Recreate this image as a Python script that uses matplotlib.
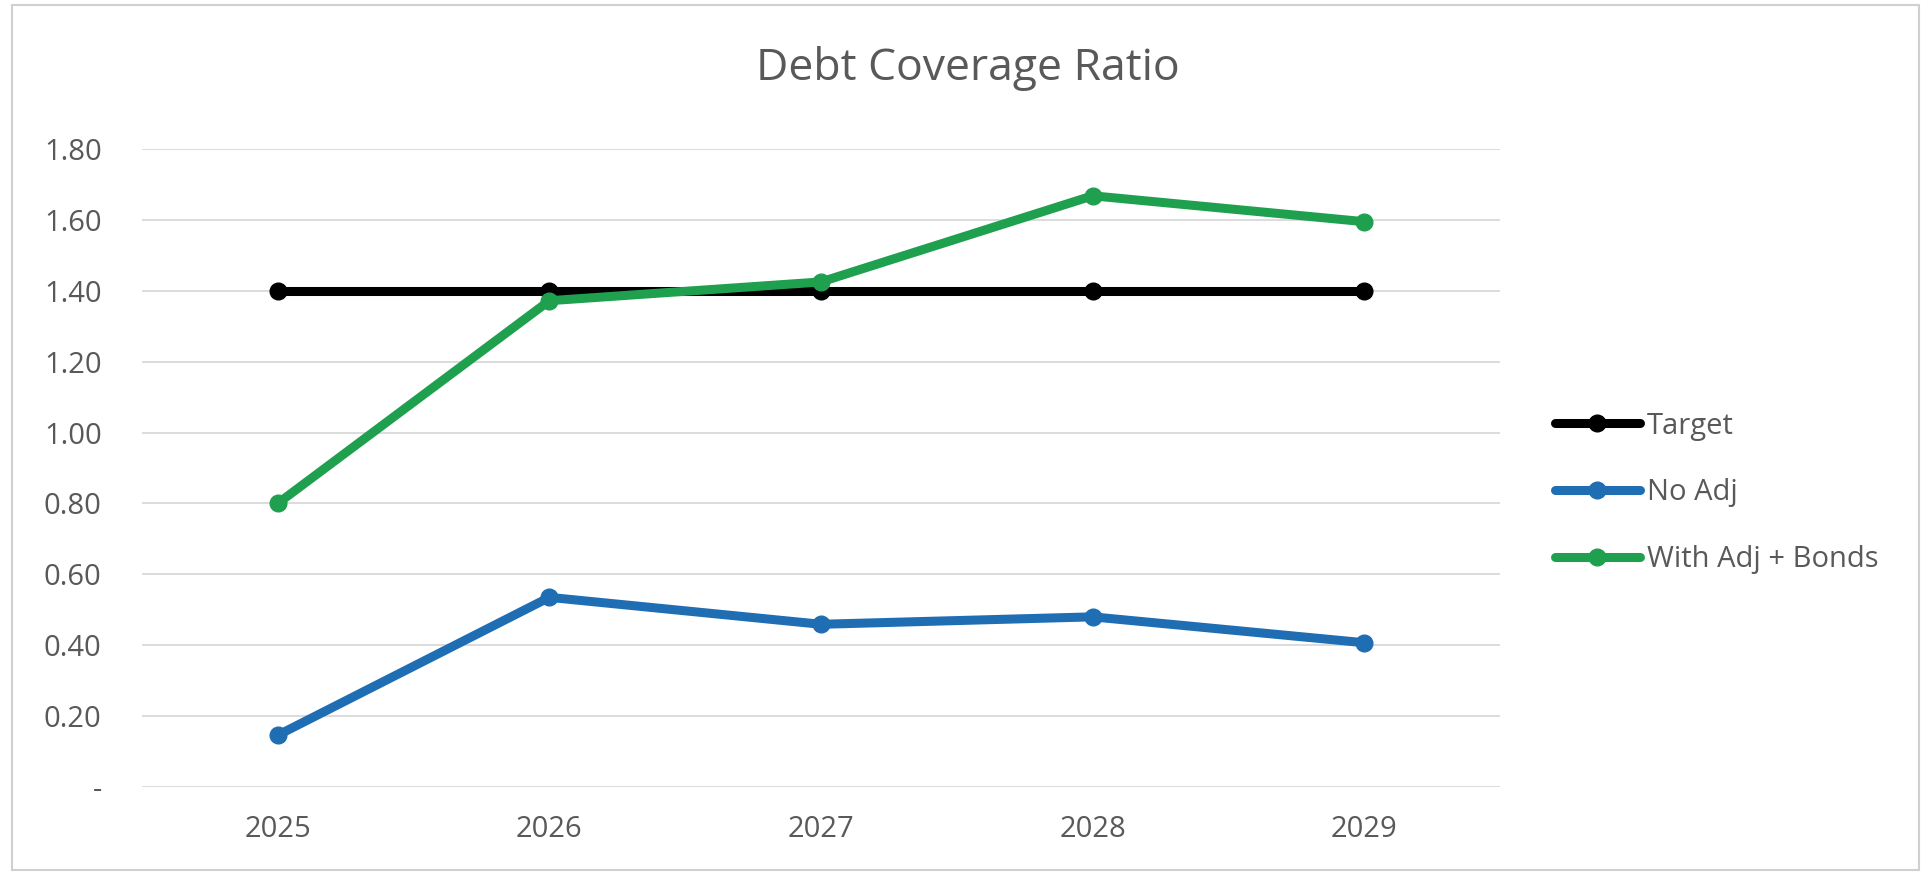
import matplotlib
matplotlib.use("Agg")
import matplotlib.pyplot as plt
from matplotlib.patches import Rectangle

years = ["2025", "2026", "2027", "2028", "2029"]
target = [1.40, 1.40, 1.40, 1.40, 1.40]
no_adj = [0.146, 0.535, 0.459, 0.480, 0.407]
with_adj_bonds = [0.80, 1.372, 1.425, 1.668, 1.595]
y_ticks = [0.0, 0.2, 0.4, 0.6, 0.8, 1.0, 1.2, 1.4, 1.6, 1.8]
y_tick_labels = ["-", "0.20", "0.40", "0.60", "0.80", "1.00", "1.20", "1.40", "1.60", "1.80"]

plt.rcParams['font.family'] = ['Open Sans', 'DejaVu Sans']
text_color = "#595959"

fig = plt.figure(figsize=(19.31, 8.75), dpi=100)
fig.patch.set_facecolor("white")
fig.add_artist(Rectangle((0.006, 0.006), 0.988, 0.988, transform=fig.transFigure,
                         fill=False, edgecolor="#D0D0D0", linewidth=1.5))

ax = fig.add_axes([0.0735, 0.1006, 0.7033, 0.7291])
x = list(range(len(years)))

series = [
    ("Target", target, "#000000"),
    ("No Adj", no_adj, "#1F6DB3"),
    ("With Adj + Bonds", with_adj_bonds, "#1FA04F"),
]
handles = []
for name, vals, col in series:
    h, = ax.plot(x, vals, color=col, linewidth=6.5, marker="o", markersize=12,
                 solid_capstyle="round", label=name, zorder=3)
    handles.append(h)

ax.set_xlim(-0.5, len(years) - 0.5)
ax.set_ylim(0, 1.8)
ax.set_yticks(y_ticks)
ax.set_yticklabels(y_tick_labels)
ax.set_xticks(x)
ax.set_xticklabels(years)
ax.grid(axis="y", color="#D9D9D9", linewidth=1.3)
ax.set_axisbelow(True)
for s in ax.spines.values():
    s.set_visible(False)
ax.tick_params(axis="both", length=0, labelcolor=text_color, labelsize=21)
ax.tick_params(axis="y", pad=29)
ax.tick_params(axis="x", pad=20)

fig.text(0.501, 0.9086, "Debt Coverage Ratio", ha="center", va="baseline",
         fontsize=32, color=text_color)

fig.legend(handles=handles, loc="center left", bbox_to_anchor=(0.8053, 0.4366),
           frameon=False, fontsize=21, labelcolor=text_color, borderpad=0,
           borderaxespad=0, handlelength=2.9, handletextpad=0.24, labelspacing=1.3)

fig.savefig("out.png", dpi=100, facecolor="white")
